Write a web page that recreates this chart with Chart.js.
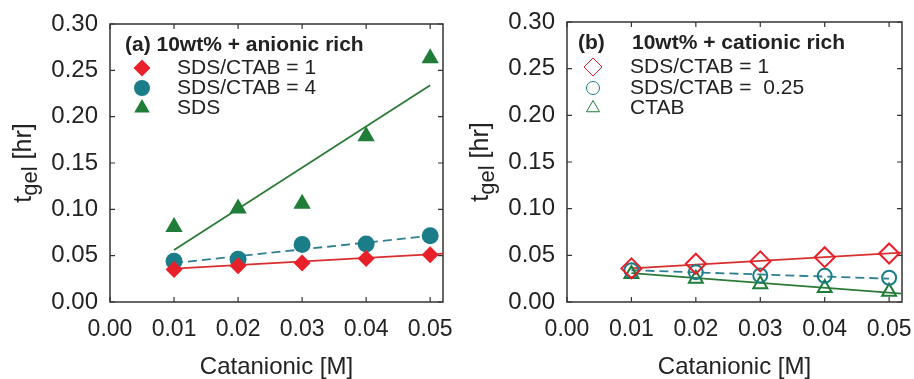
<!DOCTYPE html>
<html>
<head>
<meta charset="utf-8">
<script src="https://cdn.jsdelivr.net/npm/chart.js@4.4.1/dist/chart.umd.min.js"></script>
<style>
  html, body { margin: 0; padding: 0; background: #fff; }
  #wrap { width: 914px; height: 379px; display: flex; }
  .panel { width: 457px; height: 379px; position: relative; }
</style>
</head>
<body>
<div id="wrap">
  <div class="panel"><canvas id="chartA"></canvas></div>
  <div class="panel"><canvas id="chartB"></canvas></div>
</div>
<script>
// concentraciones (eje x)
const concentrations = [0.01, 0.02, 0.03, 0.04, 0.05];
const xTicks = [0.00, 0.01, 0.02, 0.03, 0.04, 0.05];
const yTicks = [0.00, 0.05, 0.10, 0.15, 0.20, 0.25, 0.30];

// (a) anionic rich
const anionicRatio1 = [0.035, 0.039, 0.042, 0.047, 0.051];
const anionicRatio4 = [0.044, 0.046, 0.062, 0.0625, 0.0715];
const anionicSDS = [0.081, 0.101, 0.106, 0.179, 0.263];
// rectas de ajuste (extremos x, y)
const anionicFit1X = [0.01, 0.052];
const anionicFit1Y = [0.036, 0.0523];
const anionicFit4X = [0.01, 0.05];
const anionicFit4Y = [0.042, 0.0715];
const anionicFitSX = [0.01, 0.05];
const anionicFitSY = [0.056, 0.234];

// (b) cationic rich
const cationicRatio1 = [0.036, 0.041, 0.0435, 0.048, 0.052];
const cationicRatio025 = [0.034, 0.032, 0.0285, 0.028, 0.026];
const cationicCTAB = [0.030, 0.025, 0.019, 0.015, 0.011];
const cationicFit1X = [0.01, 0.052];
const cationicFit1Y = [0.036, 0.0528];
const cationicFit025X = [0.01, 0.05];
const cationicFit025Y = [0.034, 0.025];
const cationicFitCX = [0.01, 0.052];
const cationicFitCY = [0.031, 0.009];

const FONT = '"Liberation Sans", Arial, sans-serif';
const RED = '#e8202a';
const TEAL = '#1b7d88';
const GREEN = '#1f7d38';
const RED_LINE = '#d92e2e';
const TEAL_LINE = '#2e7f92';
const GREEN_LINE = '#2b7a35';

function pts(xs, ys) {
  return xs.map((x, i) => ({ x: x, y: ys[i] }));
}

function markers(label, ys, style, color, radius, filled, bw) {
  return {
    label: label,
    data: pts(concentrations, ys),
    showLine: false,
    pointStyle: style,
    pointRadius: radius,
    pointHoverRadius: radius,
    pointBackgroundColor: filled ? color : 'rgba(0,0,0,0)',
    pointBorderColor: color,
    pointBorderWidth: bw,
    order: 0
  };
}

function fitLine(xs, ys, color, dashed) {
  return {
    label: 'fit',
    data: pts(xs, ys),
    showLine: true,
    borderColor: color,
    borderWidth: 1.8,
    borderDash: dashed ? [9, 5] : [],
    pointRadius: 0,
    pointHoverRadius: 0,
    fill: false,
    order: 1
  };
}

// Marco y marcas hacia adentro en los cuatro lados
const framePlugin = {
  id: 'frame',
  beforeDatasetsDraw(chart) {
    const { ctx, chartArea: a, scales: { x, y } } = chart;
    ctx.save();
    ctx.strokeStyle = '#333';
    ctx.lineWidth = 1.5;
    ctx.strokeRect(a.left, a.top, a.right - a.left, a.bottom - a.top);
    ctx.lineWidth = 1.2;
    ctx.beginPath();
    x.ticks.forEach(t => {
      const px = x.getPixelForValue(t.value);
      ctx.moveTo(px, a.bottom); ctx.lineTo(px, a.bottom - 5);
      ctx.moveTo(px, a.top); ctx.lineTo(px, a.top + 5);
    });
    y.ticks.forEach(t => {
      const py = y.getPixelForValue(t.value);
      ctx.moveTo(a.left, py); ctx.lineTo(a.left + 5, py);
      ctx.moveTo(a.right, py); ctx.lineTo(a.right - 5, py);
    });
    ctx.stroke();
    ctx.restore();
  }
};

// Título del eje y con subíndice: t_gel [hr]
const yTitlePlugin = {
  id: 'yTitle',
  afterDraw(chart) {
    const { ctx, chartArea: a } = chart;
    const cy = (a.top + a.bottom) / 2;
    ctx.save();
    ctx.translate(31, cy);
    ctx.rotate(-Math.PI / 2);
    ctx.fillStyle = '#222';
    ctx.textBaseline = 'alphabetic';
    const big = '25px ' + FONT, small = '22px ' + FONT;
    ctx.font = big; const w1 = ctx.measureText('t').width;
    ctx.font = small; const w2 = ctx.measureText('gel').width;
    ctx.font = big; const w3 = ctx.measureText(' [hr]').width;
    let x0 = -(w1 + w2 + w3) / 2;
    ctx.font = big; ctx.fillText('t', x0, 0); x0 += w1;
    ctx.font = small; ctx.fillText('gel', x0, 6); x0 += w2;
    ctx.font = big; ctx.fillText(' [hr]', x0, 0);
    ctx.restore();
  }
};

// Leyenda dentro del área del gráfico
const panelLegendPlugin = {
  id: 'panelLegend',
  afterDraw(chart, args, opts) {
    const { ctx } = chart;
    ctx.save();
    ctx.fillStyle = '#222';
    ctx.textBaseline = 'middle';
    ctx.font = 'bold 21px ' + FONT;
    opts.title.forEach(t => ctx.fillText(t.text, t.x, opts.titleY));
    ctx.font = '21px ' + FONT;
    opts.items.forEach((it, i) => {
      const y = opts.rowY[i];
      ctx.fillText(it.text, opts.textX, y);
      ctx.fillStyle = it.filled ? it.color : 'rgba(0,0,0,0)';
      ctx.strokeStyle = it.color;
      Chart.helpers.drawPoint(ctx, {
        pointStyle: it.style, radius: it.radius, rotation: 0, borderWidth: it.bw
      }, opts.markX, y);
      ctx.fillStyle = '#222';
    });
    ctx.restore();
  }
};

function makeOptions(padTop, padRight, legendOpts) {
  return {
    responsive: false,
    animation: false,
    layout: { padding: { left: 0, top: padTop, right: padRight, bottom: 0 } },
    plugins: {
      legend: { display: false },
      tooltip: { enabled: false },
      panelLegend: legendOpts
    },
    scales: {
      x: {
        type: 'linear',
        min: 0,
        max: 0.052,
        grid: { display: false, drawTicks: false },
        border: { display: false },
        afterBuildTicks: s => { s.ticks = xTicks.map(v => ({ value: v })); },
        afterFit: s => { s.height = 77; s.paddingLeft = 0; s.paddingRight = 0; },
        ticks: {
          padding: 14,
          color: '#222',
          font: { family: FONT, size: 23 },
          callback: v => Number(v).toFixed(2)
        },
        title: {
          display: true,
          text: 'Catanionic [M]',
          color: '#222',
          font: { family: FONT, size: 24 },
          padding: { top: 0, bottom: -3 }
        }
      },
      y: {
        type: 'linear',
        min: 0,
        max: 0.30,
        grid: { display: false, drawTicks: false },
        border: { display: false },
        afterBuildTicks: s => { s.ticks = yTicks.map(v => ({ value: v })); },
        afterFit: s => { s.width = 110; s.paddingTop = 0; s.paddingBottom = 0; },
        ticks: {
          padding: 12,
          color: '#222',
          font: { family: FONT, size: 24 },
          callback: v => Number(v).toFixed(2)
        }
      }
    }
  };
}

document.addEventListener('DOMContentLoaded', () => {
  const cA = document.getElementById('chartA');
  cA.width = 457; cA.height = 379;
  new Chart(cA.getContext('2d'), {
    type: 'scatter',
    data: {
      datasets: [
        markers('SDS/CTAB = 1', anionicRatio1, 'rectRot', RED, 8.5, true, 0),
        markers('SDS/CTAB = 4', anionicRatio4, 'circle', TEAL, 8.5, true, 0),
        markers('SDS', anionicSDS, 'triangle', GREEN, 10, true, 0),
        fitLine(anionicFit1X, anionicFit1Y, RED_LINE, false),
        fitLine(anionicFit4X, anionicFit4Y, TEAL_LINE, true),
        fitLine(anionicFitSX, anionicFitSY, GREEN_LINE, false)
      ]
    },
    options: makeOptions(24, 14, {
      title: [{ text: '(a) 10wt% + anionic rich', x: 125 }],
      titleY: 45,
      markX: 142,
      textX: 177,
      rowY: [68, 88, 108],
      items: [
        { text: 'SDS/CTAB = 1', style: 'rectRot', color: RED, radius: 8.5, filled: true, bw: 0 },
        { text: 'SDS/CTAB = 4', style: 'circle', color: TEAL, radius: 8, filled: true, bw: 0 },
        { text: 'SDS', style: 'triangle', color: GREEN, radius: 9, filled: true, bw: 0 }
      ]
    }),
    plugins: [framePlugin, yTitlePlugin, panelLegendPlugin]
  });

  const cB = document.getElementById('chartB');
  cB.width = 457; cB.height = 379;
  new Chart(cB.getContext('2d'), {
    type: 'scatter',
    data: {
      datasets: [
        markers('SDS/CTAB = 1', cationicRatio1, 'rectRot', RED, 10, false, 2),
        markers('SDS/CTAB = 0.25', cationicRatio025, 'circle', TEAL, 7, false, 2),
        markers('CTAB', cationicCTAB, 'triangle', GREEN, 8, false, 2),
        fitLine(cationicFit1X, cationicFit1Y, RED_LINE, false),
        fitLine(cationicFit025X, cationicFit025Y, TEAL_LINE, true),
        fitLine(cationicFitCX, cationicFitCY, GREEN_LINE, false)
      ]
    },
    options: makeOptions(22, 9, {
      title: [{ text: '(b)', x: 578 - 457 }, { text: '10wt% + cationic rich', x: 632 - 457 }],
      titleY: 43,
      markX: 593 - 457,
      textX: 630 - 457,
      rowY: [67, 88, 108],
      items: [
        { text: 'SDS/CTAB = 1', style: 'rectRot', color: RED, radius: 9, filled: false, bw: 2 },
        { text: 'SDS/CTAB =  0.25', style: 'circle', color: TEAL, radius: 6.5, filled: false, bw: 2 },
        { text: 'CTAB', style: 'triangle', color: GREEN, radius: 7.5, filled: false, bw: 2 }
      ]
    }),
    plugins: [framePlugin, yTitlePlugin, panelLegendPlugin]
  });
});
</script>
</body>
</html>
